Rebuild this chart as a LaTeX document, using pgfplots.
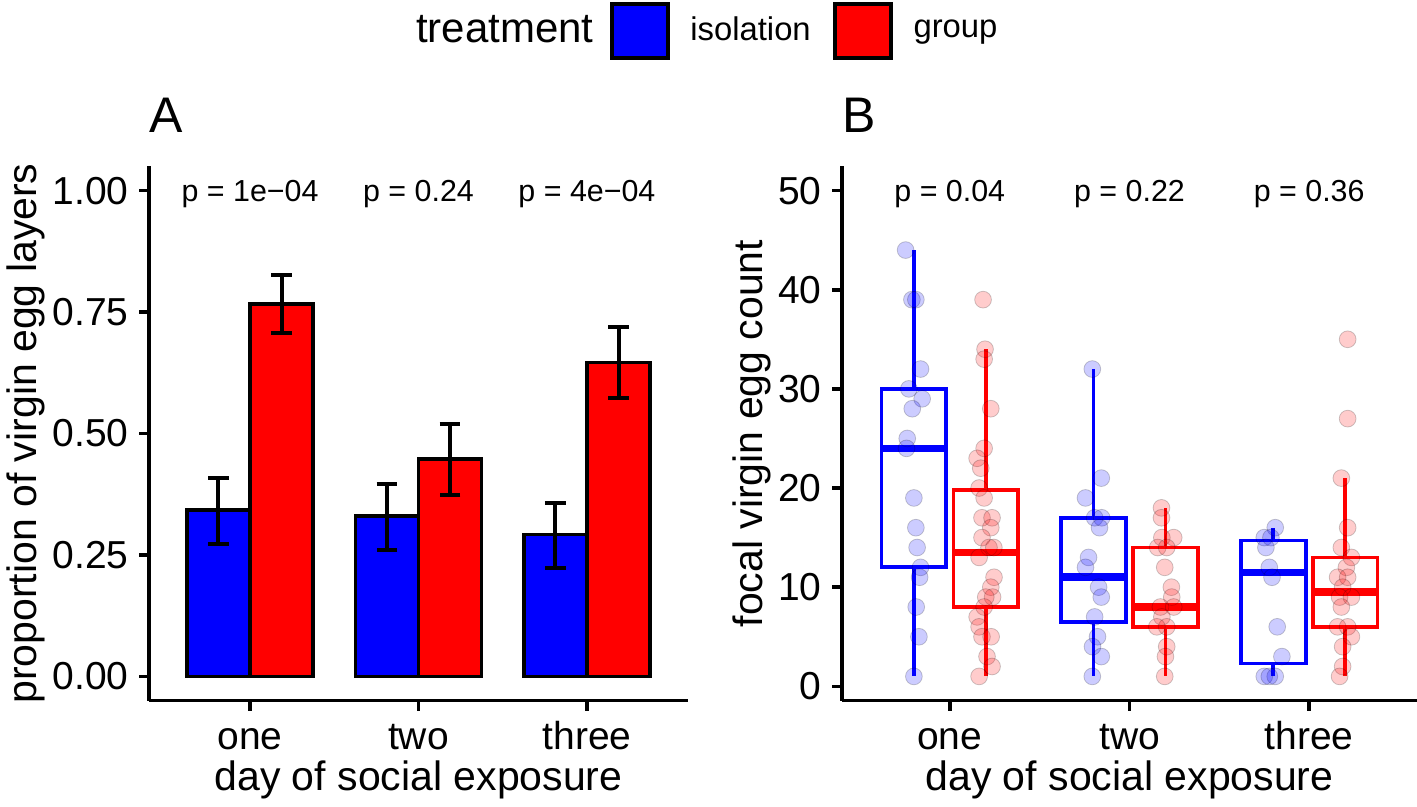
\documentclass[border=0pt]{standalone}
\usepackage{fontspec}
\setmainfont{Liberation Sans}
\usepackage{pgfplots}
\usepackage{pgfplotstable}
\pgfplotsset{compat=1.18}
\usepgfplotslibrary{statistics}

% bar centres: category - 0.1875 (isolation), category + 0.1875 (group)
\pgfplotstableread{
x y ep em
0.8125 0.342 0.066 0.069
1.8125 0.330 0.066 0.070
2.8125 0.292 0.064 0.068
}\isoA
\pgfplotstableread{
x y ep em
1.1875 0.767 0.060 0.061
2.1875 0.447 0.073 0.073
3.1875 0.646 0.073 0.073
}\grpA

\tikzset{pval/.style={font=\fontsize{15.2}{16}\selectfont, anchor=base, yshift=-5.45pt, inner sep=0pt}}

\pgfplotsset{
  ggaxis/.style={
    scale only axis, axis lines=left,
    axis line style={-, black, line width=1.8pt},
    tick align=outside, major tick length=5pt,
    tick style={black, line width=1.8pt},
    xtick={1,2,3}, xticklabels={one,two,three}, xmin=0.4, xmax=3.6,
    tick label style={font=\fontsize{19.5}{20}\selectfont, inner sep=0pt, text=black},
    xticklabel style={anchor=base, yshift=-19.65pt},
    yticklabel style={anchor=east, xshift=-5pt},
    label style={font=\fontsize{20.5}{22}\selectfont},
    xlabel={day of social exposure},
    xlabel style={at={(axis description cs:0.5,0)}, anchor=base, yshift=-45pt},
    title style={at={(axis description cs:0,1)}, anchor=base west, yshift=10.85pt, inner sep=0pt, font=\fontsize{25}{26}\selectfont},
    clip=false,
  },
  ggbox/.style={forget plot, solid, line width=1.9pt,
    boxplot prepared={draw direction=y, box extend=0.36, whisker extend=0,
      every median/.style={line width=3.8pt}}},
  ggerr/.style={error bars/.cd, y dir=both, y explicit,
    error bar style={line width=2pt, black},
    error mark options={rotate=90, black, line width=2pt, mark size=5.2pt}},
}

\begin{document}
\begin{tikzpicture}
\path[use as bounding box] (0,0) rectangle (708.5pt,403.5pt);

% ---------------- Panel A ----------------
\begin{axis}[ggaxis,
  at={(74.5pt,53.15pt)}, anchor=south west,
  width=269.5pt, height=267.2pt,
  ymin=-0.05, ymax=1.05,
  ytick={0,0.25,0.5,0.75,1}, yticklabels={0.00,0.25,0.50,0.75,1.00},
  ylabel={proportion of virgin egg layers},
  ylabel style={at={(axis description cs:-0.228,0.5)}, anchor=center},
  title={A},
  legend style={at={(axis description cs:0.495,1.2539)}, anchor=west, draw=none, fill=none,
    legend columns=-1, column sep=0pt, inner sep=0pt, nodes={inner sep=0pt}},
]
\addlegendimage{empty legend}
\addlegendentry{\fontsize{21}{22}\selectfont treatment}
\addlegendimage{legend image code/.code={\path (0pt,-14pt) (48pt,14pt); \draw[fill=blue, draw=black, line width=2pt] (9pt,-13.5pt) rectangle (37pt,13.5pt);}}
\addlegendentry{\fontsize{16.4}{17}\selectfont isolation}
\addlegendimage{legend image code/.code={\path (0pt,-14pt) (51pt,14pt); \draw[fill=red, draw=black, line width=2pt] (12pt,-13.5pt) rectangle (40pt,13.5pt);}}
\addlegendentry{\fontsize{16.4}{17}\selectfont group}

\addplot[forget plot, ybar, bar width=0.375, bar shift=0pt, fill=blue, draw=black, line width=1.8pt, ggerr]
  table[x=x, y=y, y error plus=ep, y error minus=em] {\isoA};
\addplot[forget plot, ybar, bar width=0.375, bar shift=0pt, fill=red, draw=black, line width=1.8pt, ggerr]
  table[x=x, y=y, y error plus=ep, y error minus=em] {\grpA};

\node[pval] at (axis cs:1,1) {p = 1e−04};
\node[pval] at (axis cs:2,1) {p = 0.24};
\node[pval] at (axis cs:3,1) {p = 4e−04};
\end{axis}

% ---------------- Panel B ----------------
\begin{axis}[ggaxis,
  at={(421pt,53.15pt)}, anchor=south west,
  width=287.5pt, height=267.2pt,
  ymin=-1.45, ymax=52.45,
  ytick={0,10,20,30,40,50}, yticklabels={0,10,20,30,40,50},
  ylabel={focal virgin egg count},
  ylabel style={at={(axis description cs:-0.157,0.5)}, anchor=center},
  title={B},
]
% boxes
\addplot[ggbox, blue, boxplot prepared={draw position=0.8, lower whisker=1, lower quartile=12, median=24, upper quartile=30, upper whisker=44}] coordinates {};
\addplot[ggbox, red, boxplot prepared={draw position=1.2, lower whisker=1, lower quartile=8, median=13.5, upper quartile=19.8, upper whisker=34}] coordinates {};
\addplot[ggbox, blue, boxplot prepared={draw position=1.8, lower whisker=1, lower quartile=6.5, median=11, upper quartile=17, upper whisker=32}] coordinates {};
\addplot[ggbox, red, boxplot prepared={draw position=2.2, lower whisker=1, lower quartile=6, median=8, upper quartile=14, upper whisker=18}] coordinates {};
\addplot[ggbox, blue, boxplot prepared={draw position=2.8, lower whisker=1, lower quartile=2.3, median=11.5, upper quartile=14.7, upper whisker=16}] coordinates {};
\addplot[ggbox, red, boxplot prepared={draw position=3.2, lower whisker=1, lower quartile=6, median=9.5, upper quartile=13, upper whisker=21}] coordinates {};

% jittered points
\addplot[forget plot, only marks, mark=*, mark size=4.2pt, mark options={fill=blue, draw=none, opacity=0.2}] coordinates {
(0.754,44) (0.789,39) (0.811,39) (0.837,32) (0.772,30) (0.846,29) (0.791,28) (0.763,25) (0.759,24) (0.800,19) (0.811,16) (0.818,14) (0.837,12) (0.832,11) (0.813,8) (0.828,5) (0.800,1)
(1.793,32) (1.843,21) (1.755,19) (1.806,17) (1.845,17) (1.833,16) (1.772,13) (1.755,12) (1.828,10) (1.843,9) (1.806,7) (1.822,5) (1.794,4) (1.843,3) (1.793,1)
(2.811,16) (2.750,15) (2.787,15) (2.759,14) (2.778,12) (2.793,11) (2.822,6) (2.848,3) (2.750,1) (2.811,1) (2.778,1)
};
\addplot[forget plot, only marks, mark=*, mark size=4.2pt, mark options={fill=red, draw=none, opacity=0.2}] coordinates {
(1.185,39) (1.196,34) (1.191,33) (1.228,28) (1.191,24) (1.152,23) (1.172,22) (1.163,20) (1.191,19) (1.179,17) (1.235,17) (1.228,16) (1.179,15) (1.218,14) (1.245,14) (1.163,13) (1.246,11) (1.228,10) (1.238,9) (1.200,9) (1.191,8) (1.152,7) (1.163,6) (1.179,5) (1.230,5) (1.207,3) (1.235,2) (1.163,1)
(2.178,18) (2.178,17) (2.180,15) (2.246,15) (2.157,14) (2.207,14) (2.196,12) (2.233,10) (2.235,9) (2.172,8) (2.246,8) (2.180,7) (2.207,6) (2.152,6) (2.207,4) (2.200,3) (2.196,1)
(3.214,35) (3.214,27) (3.179,21) (3.214,16) (3.179,14) (3.235,13) (3.207,12) (3.158,11) (3.214,11) (3.186,10) (3.169,9) (3.235,9) (3.179,8) (3.158,6) (3.214,6) (3.235,5) (3.186,4) (3.186,2) (3.169,1)
};

\node[pval] at (axis cs:1,50) {p = 0.04};
\node[pval] at (axis cs:2,50) {p = 0.22};
\node[pval] at (axis cs:3,50) {p = 0.36};
\end{axis}
\end{tikzpicture}
\end{document}
